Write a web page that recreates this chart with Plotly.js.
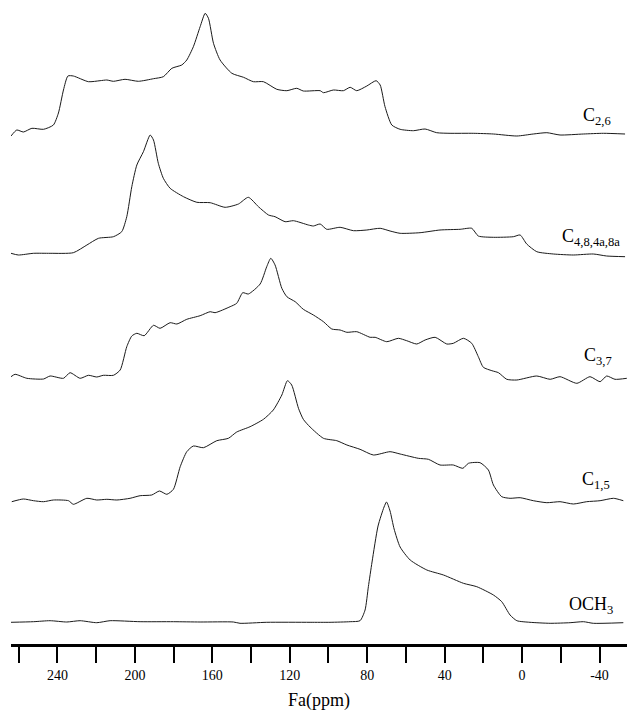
<!DOCTYPE html>
<html>
<head>
<meta charset="utf-8">
<script src="https://cdn.plot.ly/plotly-3.0.1.min.js"></script>
<style>
  html, body { margin: 0; padding: 0; background: #fff; }
  #chart { width: 627px; height: 711px; }
</style>
</head>
<body>
<div id="chart"></div>
<script>
// ---- Data (chemical shift in ppm, intensity in arbitrary units) ----
const ppm_C26 = [264, 261.0, 257.6, 253.2, 247.2, 242.1, 239.5, 236.9, 234.6, 231.8, 224.0, 218.0, 214.5, 211.1, 205.1, 198.2, 190.4, 185.3, 180.9, 175.8, 173.2, 169.8, 166.3, 163.7, 162.0, 159.4, 156.0, 149.9, 143.9, 138.8, 133.6, 126.7, 121.5, 116.4, 113.0, 104.3, 102.6, 97.5, 92.3, 88.8, 85.4, 80.2, 75.4, 73.3, 70.8, 67.3, 63.0, 56.1, 50.1, 44.1, 37.2, 25.2, 14.8, 2.7, -5.8, -12.8, -19.6, -31.7, -42.0, -53.2];
const int_C26 = [-2, 4, 2, 5.7, 4.7, 9, 21, 44, 58, 58, 52.3, 53.3, 54, 52.7, 54.7, 52.7, 55.3, 57.3, 65.7, 69, 74, 87.3, 107.3, 120.7, 115.7, 90.7, 74, 60.7, 56.7, 52.3, 52.3, 44.7, 43.3, 45.7, 43, 43.3, 41.3, 44, 43.3, 46.7, 43.3, 48, 53.3, 49, 27.3, 9, 4.7, 3.3, 5, 1.3, 0.7, 0.7, 0, -2, 0, 1.3, -1, 0, 0.7, 0];

const ppm_C4848 = [264, 260.2, 252.4, 243.8, 231.8, 224.8, 218.8, 211.1, 206.8, 204.2, 201.6, 199.0, 195.6, 192.1, 190.4, 187.9, 185.3, 181.8, 174.9, 168.0, 161.1, 153.4, 146.5, 141.4, 136.2, 131.0, 127.6, 122.4, 118.1, 110.4, 107.8, 104.3, 100.9, 94.0, 87.1, 80.2, 73.3, 68.2, 63.0, 52.7, 42.4, 32.0, 26.0, 22.6, 14.8, 4.5, 1.0, -2.4, -7.6, -16.2, -26.5, -36.8, -43.7, -53.2];
const int_C4848 = [1.7, 0, 1.7, 1.7, 2.3, 10, 16.7, 18.3, 23.3, 38.3, 68.3, 90, 103.3, 120, 115, 91.7, 76.7, 66.7, 58.3, 52.7, 52.3, 47.7, 51, 57.7, 48.3, 40, 38.3, 33.3, 34.3, 30, 29, 31, 25.7, 27.7, 24.3, 25, 26.7, 24, 21.7, 22.3, 25, 25.7, 26.7, 19, 17.7, 18.3, 20, 11, 3.3, 1, 0, 1, -1, -1.7];

const ppm_C37 = [264, 261.9, 255.8, 247.2, 243.8, 236.9, 233.5, 228.3, 224.0, 219.7, 216.3, 211.1, 207.6, 204.2, 201.6, 199.0, 195.2, 190.4, 187.0, 181.8, 178.3, 173.2, 166.3, 161.1, 158.6, 150.8, 147.4, 144.3, 141.4, 135.3, 131.9, 129.8, 127.6, 124.1, 121.5, 117.2, 113.0, 107.8, 102.6, 98.3, 94.0, 90.5, 85.4, 78.5, 75.9, 69.9, 63.9, 59.6, 54.4, 50.1, 44.9, 38.9, 35.5, 30.3, 26.0, 22.6, 20.0, 15.6, 12.2, 7.9, 2.7, -7.6, -14.5, -19.6, -28.3, -35.1, -40.3, -43.7, -48.0, -54.1];
const int_C37 = [1.3, 3.7, -0.3, -1, 2, -0.3, 5.3, -0.3, 2.7, 1, 2.7, 2.7, 8, 31.3, 42, 44.7, 42.3, 52.7, 49.7, 55.3, 54, 58.7, 62.3, 66.3, 65.3, 71.3, 74.7, 85.3, 84, 94, 111.3, 119.7, 113, 89.7, 81.3, 76.3, 68.7, 63, 56.3, 49, 48, 45.7, 46.3, 40.7, 40.7, 36.3, 39.7, 37.3, 34, 38, 40.7, 34, 34.7, 39.7, 34.7, 21.3, 10.7, 7.3, 5.3, -1.3, -2, 2, -1.3, 1.3, -5.3, 1.3, -3.7, 2, -1.3, -0.3];

const ppm_C15 = [263.6, 257.6, 252.4, 247.2, 242.1, 234.3, 231.8, 224.8, 219.7, 214.5, 209.3, 202.5, 197.3, 191.3, 187.3, 183.5, 180.1, 176.6, 173.2, 169.8, 164.6, 157.7, 151.7, 147.4, 140.5, 133.6, 128.5, 124.1, 121.2, 119.0, 115.5, 113.0, 109.5, 102.6, 95.7, 90.5, 83.7, 76.8, 68.2, 63.0, 53.6, 48.4, 42.4, 35.5, 30.6, 27.7, 21.7, 17.4, 14.8, 10.5, 6.2, 1.0, -5.8, -12.8, -19.6, -26.5, -33.4, -40.3, -47.2, -52.3];
const int_C15 = [-1.7, 1, -0.7, -1.7, 0, -0.7, -4.3, 1.7, 0, 0.7, 0, 1.7, 4.3, 5, 9, 5.7, 10.7, 33.3, 48.3, 54, 52.3, 59.3, 61.7, 68, 73.3, 80.7, 90, 105, 119.3, 115, 91.7, 80.7, 73, 61.7, 59.3, 55, 50.7, 45, 48.3, 46, 41.7, 40.7, 35, 35, 31.7, 36.7, 37.3, 30, 15, 3.3, 1.7, 2.3, -0.7, -2.7, -1.7, -4, -1.7, -0.7, 1.7, -0.7];

const ppm_OCH3 = [264, 252.4, 243.8, 235.2, 228.3, 219.7, 212.8, 197.3, 180.1, 166.3, 149.1, 145.7, 131.9, 109.5, 99.2, 88.8, 83.7, 81.1, 79.4, 77.5, 74.4, 71.3, 70.0, 68.2, 66.1, 63.0, 57.8, 49.2, 40.6, 30.3, 23.4, 14.8, 10.5, 6.2, 2.7, -4.1, -14.5, -24.8, -31.7, -36.8, -52.3];
const int_OCH3 = [-0.3, 0.3, 1.3, 0, 1.3, -0.7, 1.3, 0.3, 0.3, 0, 0, -1.3, -0.3, -0.3, -0.3, 0.3, 1.3, 12, 35.3, 60, 96, 115, 120, 111, 93, 75, 62, 52, 47, 38.7, 35.3, 27, 20.3, 7, 1.3, -0.3, -1.3, -0.7, 0.3, -1.3, -0.7];

const spectrumLabels = ['C<sub>2,6</sub>', 'C<sub>4,8,4a,8a</sub>', 'C<sub>3,7</sub>', 'C<sub>1,5</sub>', 'OCH<sub>3</sub>'];
const majorTicks = [240, 200, 160, 120, 80, 40, 0, -40];
const majorTickLabels = ['240', '200', '160', '120', '80', '40', '0', '-40'];
const minorTicks = [260, 220, 180, 140, 100, 60, 20, -20];
const axisTitle = 'Fa(ppm)';

// ---- Layout of the stack (vertical offsets, label placement) ----
const series = [
  {x: ppm_C26, y: int_C26},
  {x: ppm_C4848, y: int_C4848},
  {x: ppm_C37, y: int_C37},
  {x: ppm_C15, y: int_C15},
  {x: ppm_OCH3, y: int_OCH3}
];
const stackOffsets = [510, 389, 266, 144, 22];
const labelPos = [
  {x: 613, y: 117},
  {x: 622, y: 237},
  {x: 614, y: 356},
  {x: 612, y: 480},
  {x: 615, y: 605}
];
const serif = 'Liberation Serif, Times New Roman, serif';
const L = 11, R = 0, T = 0, B = 67, W = 627, H = 711;
const plotW = W - L - R, plotH = H - T - B;

const traces = series.map((s, i) => ({
  type: 'scatter',
  mode: 'lines',
  x: s.x,
  y: s.y.map(v => v + stackOffsets[i]),
  line: {color: '#1a1a1a', width: 1, shape: 'spline', smoothing: 0.6},
  hoverinfo: 'skip',
  showlegend: false,
  cliponaxis: true
}));

const annotations = spectrumLabels.map((t, i) => ({
  text: t,
  xref: 'paper', yref: 'paper',
  x: (labelPos[i].x - L) / plotW,
  y: (plotH - labelPos[i].y + T) / plotH,
  xanchor: 'right', yanchor: 'middle',
  showarrow: false,
  font: {family: serif, size: 18, color: '#000'}
}));

const layout = {
  width: W, height: H,
  margin: {l: L, r: R, t: T, b: B, pad: 0},
  paper_bgcolor: '#fff', plot_bgcolor: '#fff',
  showlegend: false,
  font: {family: serif, color: '#000'},
  xaxis: {
    range: [264, -54.2],
    showgrid: false, zeroline: false,
    showline: true, linecolor: '#000', linewidth: 3,
    ticks: 'outside', ticklen: 16, tickwidth: 2, tickcolor: '#000',
    tickmode: 'array', tickvals: majorTicks, ticktext: majorTickLabels,
    tickfont: {family: serif, size: 14, color: '#000'},
    minor: {tickmode: 'array', tickvals: minorTicks, ticks: 'outside', ticklen: 16, tickwidth: 2, tickcolor: '#000', showgrid: false},
    title: {text: axisTitle, font: {family: serif, size: 18, color: '#000'}, standoff: 12},
    fixedrange: true
  },
  yaxis: {
    range: [0, plotH],
    visible: false,
    showgrid: false, zeroline: false,
    fixedrange: true
  },
  annotations: annotations
};

Plotly.newPlot('chart', traces, layout, {displayModeBar: false, staticPlot: true});
</script>
</body>
</html>
